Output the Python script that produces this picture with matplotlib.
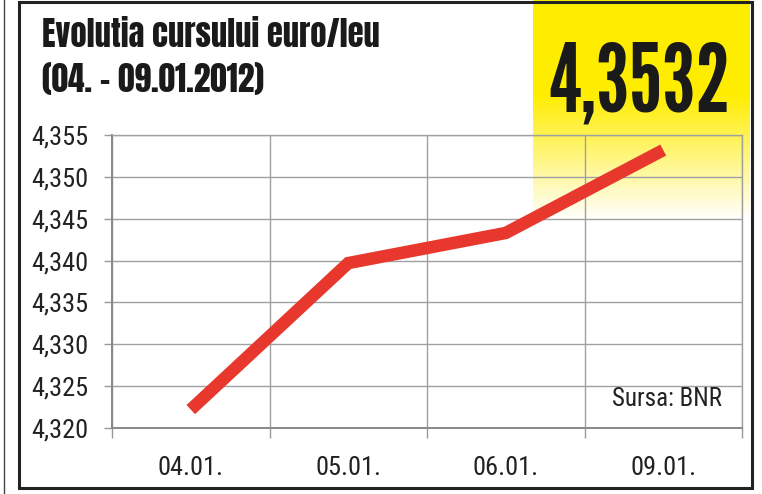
import matplotlib
matplotlib.use("Agg")
import matplotlib.pyplot as plt
import numpy as np
from matplotlib import font_manager as fm
from matplotlib.patches import Rectangle
from matplotlib.lines import Line2D

# data
days = ["04.01.", "05.01.", "06.01.", "09.01."]
rates = [4.3222, 4.3397, 4.3433, 4.3532]
yticks = [4.320, 4.325, 4.330, 4.335, 4.340, 4.345, 4.350, 4.355]
last_rate = "4,3532"

installed = {f.name for f in fm.fontManager.ttflist}

def pick(*names):
    for n in names:
        if n in installed:
            return n
    return "DejaVu Sans"

heavy = pick("Anton", "Oswald", "Bebas Neue", "Fjalla One", "Roboto Condensed",
             "Liberation Sans Narrow")
compressed = pick("League Gothic", "Anton", "Oswald", "Bebas Neue", "Roboto Condensed")
narrow = pick("Roboto Condensed", "Archivo Narrow", "PT Sans Narrow", "Open Sans Condensed",
              "Liberation Sans Narrow", "Cabin Condensed", "DejaVu Sans")

W, H = 762, 494
fig = plt.figure(figsize=(W / 100, H / 100), dpi=100)
fig.patch.set_facecolor("white")

def fx(px):
    return px / W

def fy(py):
    return 1 - py / H

# yellow box fading to white
grad = np.ones((H, 1, 3))
yel = np.array([1.0, 0.93, 0.0])
for r in range(H):
    t = min(max((r - 95) / 125, 0.0), 1.0)
    grad[r, 0] = yel * (1 - t) + t
bg = fig.add_axes([fx(533), 0, fx(750 - 533), 1], zorder=0)
bg.imshow(grad, aspect="auto", extent=[0, 1, 0, 1], origin="upper")
bg.axis("off")

# frame
fig.add_artist(Rectangle((fx(19), fy(488)), fx(752 - 19), fy(2) - fy(488),
                         transform=fig.transFigure, fill=False, lw=2.2,
                         ec="#222222", zorder=5))
fig.add_artist(Line2D([fx(4), fx(4)], [0, 1], transform=fig.transFigure,
                      lw=1, color="#444444"))

ax = fig.add_axes([fx(112), fy(428), fx(742 - 112), fy(135) - fy(428)], zorder=2)
ax.patch.set_alpha(0)
x = np.arange(len(days))
ax.plot(x, rates, color="#e8382d", lw=9, solid_capstyle="butt",
        solid_joinstyle="miter", zorder=3)

ax.set_xlim(-0.5, len(days) - 0.5)
ax.set_ylim(yticks[0], yticks[-1])
ax.set_yticks(yticks)
ax.set_yticklabels([f"{v:.3f}".replace(".", ",") for v in yticks])
ax.set_xticks(x)
ax.set_xticklabels(days)
ax.set_xticks(np.arange(-0.5, len(days)), minor=True)
ax.tick_params(axis="x", which="major", length=0, pad=20, labelsize=19,
               labelcolor="#222222")
ax.tick_params(axis="x", which="minor", length=7, color="#999999", width=1)
ax.tick_params(axis="y", length=6, color="#999999", width=1, pad=11,
               labelsize=19, labelcolor="#222222")
for lab in ax.get_xticklabels() + ax.get_yticklabels():
    lab.set_family(narrow)
ax.grid(axis="y", color="#a0a0a0", lw=1)
ax.grid(axis="x", which="minor", color="#a0a0a0", lw=1)
for s in ["left", "bottom"]:
    ax.spines[s].set_color("#888888")
    ax.spines[s].set_linewidth(1.4)
for s in ["top", "right"]:
    ax.spines[s].set_color("#a0a0a0")
    ax.spines[s].set_linewidth(1)

src = ax.text(0.968, 0.1, "Sursa: BNR", transform=ax.transAxes, ha="right",
              va="center", fontsize=18, family=narrow, color="#222222")

title_kw = dict(fontsize=23, family=heavy, color="#1a1a1a", ha="left",
                va="baseline")
t1 = fig.text(fx(42), fy(47), "Evolutia cursului euro/leu", **title_kw)
t2 = fig.text(fx(42), fy(92), "(04. - 09.01.2012)", **title_kw)
big = fig.text(fx(639), fy(112), last_rate, fontsize=60, family=compressed,
               color="#1a1a1a", ha="center", va="baseline", zorder=6)

# size the display texts to the widths seen in the reference
renderer = fig.canvas.get_renderer()
for txt, target in [(t1, 338), (t2, 222), (big, 182), (src, 110)]:
    for _ in range(2):
        w = txt.get_window_extent(renderer).width
        txt.set_fontsize(txt.get_fontsize() * target / w)

fig.savefig("out.png", dpi=100)
